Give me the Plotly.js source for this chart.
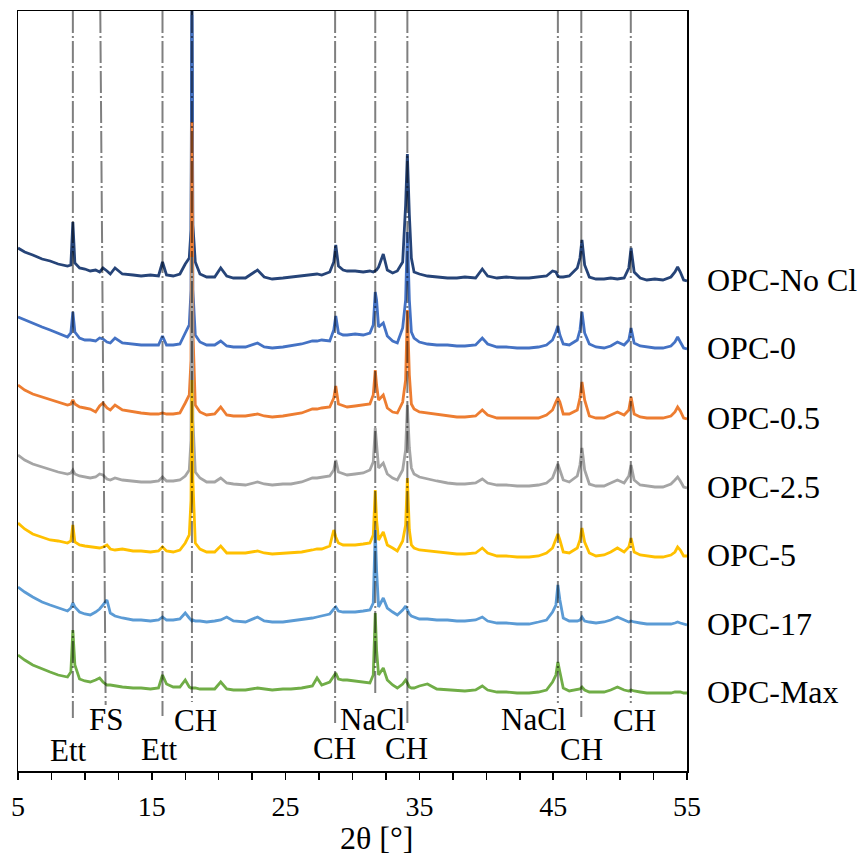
<!DOCTYPE html>
<html><head><meta charset="utf-8">
<script src="https://cdn.plot.ly/plotly-3.0.1.min.js"></script>
<style>html,body{margin:0;padding:0;background:#fff}#chart{width:861px;height:861px}</style>
</head><body><div id="chart"></div>
<script>
// 2θ grid (degrees)
const twoTheta = [5.0, 5.5, 6.1, 6.8, 7.4, 8.0, 8.7, 8.95, 9.1, 9.25,
 9.6, 10.0, 10.4, 10.8, 11.1, 11.35, 11.65, 11.9, 12.25, 12.8,
 13.6, 14.2, 14.9, 15.5, 15.8, 16.1, 16.6, 17.1, 17.5, 17.8,
 17.93, 18.0, 18.07, 18.25, 18.6, 19.1, 19.7, 20.15, 20.6, 21.1,
 22.0, 22.9, 23.4, 24.0, 24.8, 25.4, 26.2, 27.0, 27.35, 27.7,
 28.3, 28.6, 28.75, 28.95, 29.3, 29.6, 30.2, 30.8, 31.3, 31.55,
 31.7, 31.8, 31.95, 32.3, 32.6, 33.0, 33.35, 33.75, 33.97, 34.1,
 34.25, 34.4, 34.6, 35.0, 35.6, 36.3, 37.1, 37.8, 38.4, 39.2,
 39.7, 40.1, 40.8, 41.5, 42.3, 43.2, 43.9, 44.5, 44.95, 45.2,
 45.35, 45.5, 45.75, 46.2, 46.8, 47.0, 47.15, 47.35, 47.7, 48.2,
 48.8, 49.3, 49.8, 50.3, 50.65, 50.82, 51.05, 51.5, 52.0, 52.6,
 53.2, 53.8, 54.1, 54.3, 54.5, 54.75, 55.0];

// stacked intensities (a.u., offset patterns)
const opcNoCl = [522, 518, 515, 511, 509, 506, 504, 505, 548, 507,
 502, 501, 499, 500, 498, 502, 499, 496, 502, 496,
 495, 494, 495, 494, 508, 495, 494, 496, 506, 512,
 540, 790, 545, 508, 496, 493, 493, 502, 494, 492,
 492, 500, 493, 491, 492, 493, 494, 495, 496, 495,
 498, 508, 525, 504, 500, 499, 499, 498, 499, 498,
 499, 500, 503, 516, 500, 497, 499, 508, 565, 616,
 555, 512, 498, 496, 494, 493, 492, 492, 493, 492,
 501, 494, 492, 493, 492, 492, 493, 494, 499, 498,
 494, 493, 493, 494, 502, 512, 530, 505, 493, 491,
 491, 492, 491, 492, 502, 522, 498, 492, 490, 491,
 490, 493, 498, 503, 498, 490, 489];
const opc0 = [453, 450, 447, 443, 440, 437, 433, 437, 458, 438,
 432, 430, 430, 429, 432, 431, 428, 427, 432, 427,
 426, 425, 425, 425, 434, 425, 425, 426, 437, 445,
 480, 755, 480, 435, 428, 425, 425, 429, 424, 423,
 423, 427, 423, 422, 423, 424, 426, 429, 429, 430,
 429, 440, 454, 437, 435, 435, 436, 435, 437, 445,
 478, 470, 443, 447, 434, 429, 427, 442, 470, 538,
 470, 438, 432, 428, 426, 425, 425, 424, 424, 425,
 432, 426, 423, 423, 422, 422, 423, 425, 430, 438,
 444, 435, 426, 425, 430, 440, 458, 437, 426, 423,
 422, 424, 428, 425, 430, 442, 427, 424, 423, 422,
 422, 424, 428, 433, 428, 422, 421];
const opc05 = [385, 380, 376, 373, 370, 368, 365, 366, 370, 366,
 363, 362, 361, 358, 364, 367, 362, 360, 365, 360,
 358, 357, 356, 356, 357, 356, 356, 357, 367, 375,
 410, 648, 440, 365, 358, 355, 356, 363, 355, 354,
 354, 356, 354, 353, 354, 355, 357, 361, 361, 362,
 363, 372, 384, 366, 364, 363, 364, 365, 366, 375,
 400, 385, 370, 375, 362, 358, 357, 368, 390, 460,
 395, 366, 361, 358, 357, 356, 354, 353, 353, 354,
 360, 355, 352, 352, 352, 352, 352, 355, 360, 368,
 372, 368, 356, 356, 360, 372, 388, 370, 354, 352,
 352, 355, 358, 355, 360, 373, 356, 353, 352, 352,
 352, 354, 358, 363, 359, 352, 351];
const opc25 = [315, 310, 306, 303, 300, 298, 296, 297, 300, 296,
 294, 293, 292, 293, 296, 295, 291, 290, 292, 290,
 289, 288, 288, 289, 293, 289, 289, 290, 294, 300,
 330, 513, 350, 298, 292, 288, 288, 292, 287, 286,
 285, 288, 286, 285, 286, 286, 288, 292, 292, 293,
 294, 300, 310, 298, 296, 295, 296, 297, 300, 308,
 342, 325, 302, 307, 296, 292, 290, 300, 320, 365,
 322, 302, 296, 293, 291, 289, 287, 286, 286, 287,
 291, 287, 285, 285, 284, 284, 285, 287, 292, 300,
 306, 300, 290, 288, 294, 305, 322, 300, 286, 284,
 284, 287, 290, 287, 294, 305, 290, 285, 284, 283,
 283, 286, 290, 293, 289, 283, 282];
const opc5 = [247, 241, 236, 233, 230, 229, 227, 229, 245, 228,
 225, 224, 223, 222, 222, 223, 225, 221, 220, 221,
 219, 219, 218, 219, 223, 219, 218, 220, 227, 235,
 270, 390, 290, 227, 221, 218, 218, 224, 217, 217,
 217, 219, 217, 216, 217, 217, 218, 220, 221, 221,
 224, 240, 233, 227, 225, 225, 225, 226, 227, 235,
 280, 250, 230, 238, 225, 222, 219, 229, 245, 292,
 240, 225, 222, 220, 219, 218, 217, 216, 216, 217,
 222, 217, 214, 214, 213, 213, 214, 217, 222, 230,
 236, 230, 218, 217, 222, 230, 242, 228, 217, 214,
 215, 218, 222, 218, 223, 232, 218, 215, 214, 213,
 213, 215, 218, 223, 220, 214, 214];
const opc17 = [183, 178, 173, 168, 165, 162, 159, 162, 167, 163,
 158, 156, 155, 158, 161, 165, 170, 157, 154, 152,
 150, 150, 149, 150, 153, 150, 150, 151, 157, 152,
 150, 149, 150, 149, 149, 148, 149, 150, 153, 149,
 148, 153, 149, 148, 148, 149, 150, 152, 153, 154,
 156, 161, 163, 159, 158, 158, 158, 159, 160, 167,
 240, 200, 163, 172, 162, 158, 155, 160, 164, 160,
 156, 154, 153, 151, 151, 150, 150, 149, 149, 150,
 153, 149, 147, 147, 146, 146, 148, 150, 158, 165,
 185, 170, 152, 149, 149, 150, 153, 149, 148, 147,
 148, 150, 153, 150, 148, 149, 148, 147, 146, 146,
 146, 146, 147, 148, 147, 146, 145];
const opcMax = [115, 110, 105, 101, 98, 95, 93, 98, 140, 105,
 91, 89, 88, 90, 92, 88, 85, 85, 84, 83,
 82, 82, 81, 82, 95, 86, 83, 83, 90, 83,
 82, 82, 82, 82, 81, 81, 81, 88, 81, 80,
 80, 82, 81, 80, 81, 81, 82, 84, 92, 85,
 88, 94, 97, 91, 90, 90, 89, 88, 87, 95,
 157, 120, 95, 102, 90, 85, 82, 86, 90, 87,
 83, 82, 82, 84, 86, 81, 80, 79, 79, 80,
 84, 80, 78, 78, 77, 77, 78, 80, 88, 95,
 108, 98, 82, 79, 80, 81, 83, 80, 78, 78,
 78, 80, 83, 80, 79, 80, 79, 78, 77, 77,
 77, 77, 78, 78, 78, 77, 77];

const seriesNames = ['OPC-No Cl', 'OPC-0', 'OPC-0.5', 'OPC-2.5', 'OPC-5', 'OPC-17', 'OPC-Max'];
const seriesValues = [opcNoCl, opc0, opc05, opc25, opc5, opc17, opcMax];

// reference phase peaks (2θ) and their labels
const peakPos = [9.1, 11.35, 15.8, 18.0, 28.7, 31.7, 34.1, 45.35, 47.1, 50.8];
const peakLabel = ['Ett', 'FS', 'Ett', 'CH', 'CH', 'NaCl', 'CH', 'NaCl', 'CH', 'CH'];

// ---- styling ----
const colors = ['#264478', '#4472C4', '#ED7D31', '#A5A5A5', '#FFC000', '#5B9BD5', '#70AD47'];
const FONT = '"Liberation Serif", "Times New Roman", Times, serif';

const traces = seriesValues.map((v, i) => ({
  type: 'scatter', mode: 'lines', x: twoTheta, y: v, name: seriesNames[i],
  line: {color: colors[i], width: 2.8}, hoverinfo: 'skip'
}));

const lineBottom = [52, 65, 54, 68, 45, 77, 45, 67, 53, 67];
const lineLean = [0, 0.2, 0, 0, 0, 0, 0, 0, 0, 0];
const labelDx = [-0.29, 0.23, -0.19, 0.23, -0.01, -0.17, -0.03, -1.79, 0.05, 0.24];
const labelRow = [20, 51, 21, 50, 22, 51, 22, 51, 21, 50];

const shapes = peakPos.map((p, i) => ({
  type: 'line', xref: 'x', yref: 'y', layer: 'above',
  x0: p - lineLean[i], x1: p + lineLean[i], y0: 759, y1: lineBottom[i],
  line: {color: 'rgba(0,0,0,0.5)', width: 2, dash: '22px,3px,2px,3px'}
}));

const annotations = [];
peakPos.forEach((p, i) => annotations.push({
  xref: 'x', yref: 'y', x: p + labelDx[i], y: labelRow[i], text: peakLabel[i],
  showarrow: false, xanchor: 'center', yanchor: 'middle',
  font: {family: FONT, size: 31, color: '#000'}
}));
seriesValues.forEach((v, i) => annotations.push({
  xref: 'paper', yref: 'y', x: 1, xshift: 18, y: v[v.length - 1] + 1, text: seriesNames[i],
  showarrow: false, xanchor: 'left', yanchor: 'middle',
  font: {family: FONT, size: 32, color: '#000'}
}));
annotations.push({
  xref: 'x', yref: 'paper', x: 31.8, y: -0.088, text: '2θ [°]', showarrow: false,
  xanchor: 'center', yanchor: 'middle', font: {family: FONT, size: 32, color: '#000'}
});

const layout = {
  width: 861, height: 861,
  margin: {l: 18, r: 174, t: 11, b: 90},
  paper_bgcolor: '#fff', plot_bgcolor: '#fff',
  showlegend: false,
  font: {family: FONT, color: '#000'},
  xaxis: {
    range: [5, 55], tick0: 5, dtick: 10, ticks: 'outside', ticklen: 7, tickwidth: 1.5, tickcolor: '#000',
    minor: {tick0: 5, dtick: 2.5, ticks: 'outside', ticklen: 7, tickwidth: 1.5, tickcolor: '#000', showgrid: false},
    showline: true, linecolor: '#000', linewidth: 1.5, mirror: true,
    showgrid: false, zeroline: false, tickfont: {family: FONT, size: 28, color: '#000'},
    ticklabelstandoff: 3
  },
  yaxis: {
    range: [-1, 759], showline: true, linecolor: '#000', linewidth: 1.5, mirror: true,
    showgrid: false, zeroline: false, showticklabels: false, ticks: ''
  },
  shapes: shapes,
  annotations: annotations
};

Plotly.newPlot('chart', traces, layout, {staticPlot: true, displayModeBar: false});
</script>
</body></html>
